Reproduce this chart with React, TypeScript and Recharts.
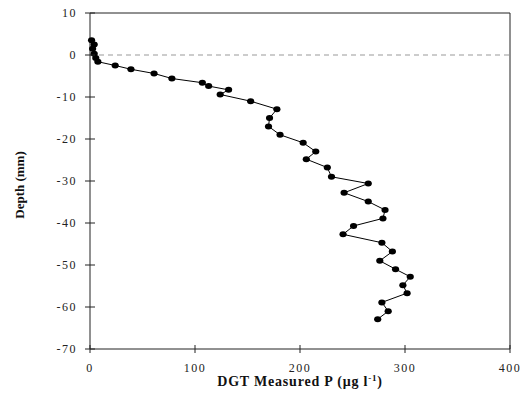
import React from "react";
import { LineChart, Line, XAxis, YAxis, ReferenceLine, Label } from "recharts";

const depthMm = [
  3.5, 2.5, 1.5, 0.3, -0.7, -1.6, -2.5, -3.4, -4.4, -5.6, -6.6, -7.4, -8.3, -9.4,
  -11, -12.9, -15, -17, -19, -20.9, -23, -24.8, -26.8, -29, -30.6, -32.8, -34.9,
  -36.9, -38.9, -40.7, -42.7, -44.7, -46.8, -49, -51, -52.8, -54.8, -56.7, -58.9,
  -61, -62.9,
];
const measuredP = [
  1.5, 4, 2.5, 4, 5.5, 7.5, 24, 39, 61, 78, 107, 113, 132, 124,
  153, 178, 171, 170, 181, 203, 215, 206, 226, 230, 265, 242, 265,
  281, 279, 251, 241, 278, 288, 276, 291, 305, 298, 302, 278,
  284, 274,
];
const xTicks = [0, 100, 200, 300, 400];
const yTicks = [10, 0, -10, -20, -30, -40, -50, -60, -70];

const data = depthMm.map((d, i) => ({ p: measuredP[i], depth: d }));

const FONT = "'Liberation Serif', 'Times New Roman', serif";
const AXIS = "#222";

const YTick = (props: any) => {
  const { x, y, payload } = props;
  const ax = x + 13;
  return (
    <g>
      <line x1={ax - 5} x2={ax + 5} y1={y} y2={y} stroke={AXIS} strokeWidth={1} />
      <text
        x={x}
        y={y}
        dy="0.35em"
        textAnchor="end"
        fontFamily={FONT}
        fontSize={12}
        letterSpacing={1.5}
        fill="#222"
      >
        {payload.value}
      </text>
    </g>
  );
};

const XTick = (props: any) => {
  const { x, y, payload } = props;
  const ay = y - 14;
  return (
    <g>
      <line x1={x} x2={x} y1={ay - 4} y2={ay + 4} stroke={AXIS} strokeWidth={1} />
      <text
        x={x}
        y={y}
        dy="0.71em"
        textAnchor="middle"
        fontFamily={FONT}
        fontSize={12}
        letterSpacing={1.5}
        fill="#222"
      >
        {payload.value}
      </text>
    </g>
  );
};

const XTitle = (props: any) => {
  const vb = props.viewBox;
  const cx = vb.x + vb.width / 2;
  return (
    <text
      x={cx}
      y={386}
      textAnchor="middle"
      fontFamily={FONT}
      fontSize={14}
      fontWeight="bold"
      letterSpacing={0.8}
      fill="#111"
    >
      DGT Measured P (μg l
      <tspan fontSize={9} dy={-5}>-1</tspan>
      <tspan dy={5}>)</tspan>
    </text>
  );
};

const YTitle = (props: any) => {
  const vb = props.viewBox;
  const cy = vb.y + vb.height / 2;
  return (
    <text
      x={0}
      y={0}
      transform={`translate(24, ${cy + 4}) rotate(-90)`}
      textAnchor="middle"
      fontFamily={FONT}
      fontSize={13}
      fontWeight="bold"
      fill="#111"
    >
      Depth (mm)
    </text>
  );
};

const Dot = (props: any) => {
  const { cx, cy } = props;
  if (cx == null || cy == null) return null;
  return <ellipse cx={cx} cy={cy} rx={3.6} ry={3} fill="#000" />;
};

export default function App() {
  return (
    <div style={{ position: "absolute", left: 0, top: 0, width: 524, height: 402, background: "#fff" }}>
      <LineChart
        width={524}
        height={402}
        data={data}
        margin={{ top: 13, right: 14, left: 30, bottom: 0 }}
      >
        <XAxis
          dataKey="p"
          type="number"
          domain={[0, 400]}
          ticks={xTicks}
          interval={0}
          height={53}
          tickSize={5}
          tickMargin={9}
          tickLine={false}
          tick={<XTick />}
          axisLine={{ stroke: AXIS, strokeWidth: 1 }}
        >
          <Label content={<XTitle />} />
        </XAxis>
        <YAxis
          type="number"
          domain={[-70, 10]}
          ticks={yTicks}
          interval={0}
          width={60}
          tickSize={5}
          tickMargin={8}
          tickLine={false}
          tick={<YTick />}
          axisLine={{ stroke: AXIS, strokeWidth: 1 }}
        >
          <Label content={<YTitle />} />
        </YAxis>
        <ReferenceLine y={10} stroke={AXIS} strokeWidth={1} />
        <ReferenceLine x={400} stroke={AXIS} strokeWidth={1} />
        <ReferenceLine y={0} stroke="#999" strokeWidth={1} strokeDasharray="5 4" />
        <Line
          dataKey="depth"
          type="linear"
          stroke="#000"
          strokeWidth={1}
          dot={<Dot />}
          activeDot={false}
          isAnimationActive={false}
        />
      </LineChart>
    </div>
  );
}
